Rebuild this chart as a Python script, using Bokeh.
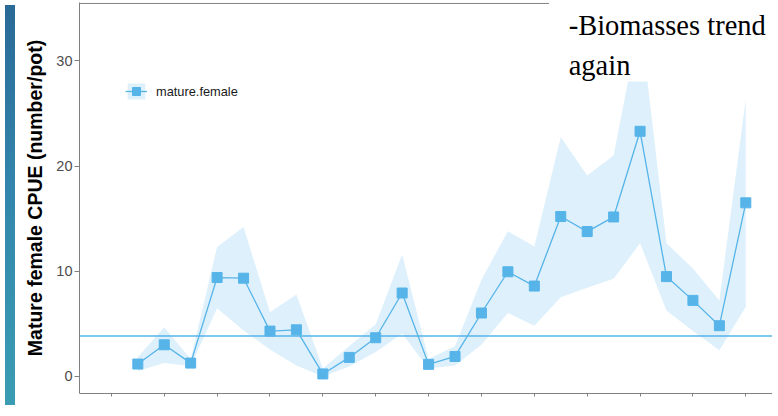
from bokeh.plotting import figure
from bokeh.models import (Range1d, FixedTicker, Span, Legend, LegendItem,
                          BoxAnnotation, Label, Div, ColumnDataSource,
                          CustomLabelingPolicy)
from bokeh.layouts import row
from bokeh.embed import file_html
from bokeh.resources import INLINE

# ---------------- data ----------------
survey = list(range(1, 25))
cpue_mean = [1.18, 3.01, 1.27, 9.40, 9.34, 4.31, 4.43, 0.24, 1.81, 3.68, 7.93, 1.15,
             1.90, 6.03, 9.95, 8.59, 15.2, 13.77, 15.16, 23.3, 9.49, 7.23, 4.82, 16.5]
cpue_lower = [0.51, 1.27, 0.99, 6.48, 4.37, 2.56, 1.05, 0.0, 0.95, 2.32, 4.07, 0.75,
              1.05, 3.01, 6.03, 4.82, 7.53, 8.44, 9.29, 12.66, 6.27, 4.31, 2.5, 6.63]
cpue_upper = [1.85, 4.67, 1.66, 12.3, 14.2, 6.09, 7.78, 0.75, 2.9, 4.97, 11.6, 1.66,
              2.86, 9.19, 13.8, 12.36, 22.75, 19.1, 21.0, 34.0, 12.66, 10.25, 7.23, 26.4]
reference_level = 3.85
y_ticks = [0, 10, 20, 30]
x_ticks = list(range(0, 25, 2))
series_name = "mature.female"
y_title = "Mature female CPUE (number/pot)"
note_lines = ["-Biomasses trend", "again"]

BLUE = "#56B4E9"
AXIS = "#808080"

src = ColumnDataSource(dict(x=survey, y=cpue_mean, lo=cpue_lower, hi=cpue_upper))

X0, X1 = -1.206, 25.01
Y0, Y1 = -1.62, 35.54

p = figure(width=752, height=400, output_backend="svg", toolbar_location=None,
           x_range=Range1d(X0, X1), y_range=Range1d(Y0, Y1),
           min_border_left=59, min_border_right=0, min_border_top=2, min_border_bottom=3,
           background_fill_color="white", border_fill_color="white")
p.outline_line_color = None
p.xgrid.visible = False
p.ygrid.visible = False

band = p.varea(x="x", y1="lo", y2="hi", source=src, fill_color=BLUE, fill_alpha=0.2)
ln = p.line(x="x", y="y", source=src, line_color=BLUE, line_width=1.3)
pts = p.scatter(x="x", y="y", source=src, marker="square", size=10,
                fill_color=BLUE, line_color=BLUE)

p.add_layout(Span(location=reference_level, dimension="width",
                  line_color=BLUE, line_width=1.5))

# y axis
p.yaxis.ticker = FixedTicker(ticks=y_ticks, minor_ticks=[])
p.yaxis.axis_label = y_title
p.yaxis.axis_label_text_font = "Liberation Sans"
p.yaxis.axis_label_text_font_style = "bold"
p.yaxis.axis_label_text_font_size = "19.5px"
p.yaxis.axis_label_text_color = "black"
p.yaxis.axis_label_standoff = 7
p.yaxis.major_label_text_font = "Liberation Sans"
p.yaxis.major_label_text_font_size = "14.5px"
p.yaxis.major_label_text_color = "#4d4d4d"
p.yaxis.major_label_standoff = 2
p.yaxis.major_tick_out = 5
p.yaxis.major_tick_in = 0
p.yaxis.axis_line_color = AXIS
p.yaxis.major_tick_line_color = AXIS

# x axis (its labels lie outside the reference's view: ticks only)
p.xaxis.ticker = FixedTicker(ticks=x_ticks, minor_ticks=[])
p.xaxis.major_label_policy = CustomLabelingPolicy(code="return []")
p.xaxis.major_label_text_font_size = "1px"
p.xaxis.major_label_standoff = 0
p.xaxis.major_tick_out = 3
p.xaxis.major_tick_in = 0
p.xaxis.axis_line_color = AXIS
p.xaxis.major_tick_line_color = AXIS

# top panel border (partly hidden by the text box)
box_left = 16.56
box_bottom = 28.04
p.segment(x0=[X0], y0=[35.45], x1=[box_left], y1=[35.45], line_color=AXIS, line_width=1)

legend = Legend(items=[LegendItem(label=series_name, renderers=[band, ln, pts])],
                location=(46, 292), padding=0, margin=0, spacing=0,
                glyph_width=22, glyph_height=20, label_height=20, label_standoff=9,
                label_text_font="Liberation Sans", label_text_font_size="12.8px",
                label_text_color="#1a1a1a", border_line_color=None,
                background_fill_alpha=0)
p.add_layout(legend)

# overlaid slide text box
p.add_layout(BoxAnnotation(left=box_left, bottom=box_bottom, fill_color="white",
                           fill_alpha=1.0, line_color=None))
for txt, yy in zip(note_lines, [33.40, 29.60]):
    p.add_layout(Label(x=17.30, y=yy, text=txt, text_font="Liberation Serif",
                       text_font_size="28.5px", text_color="black",
                       text_baseline="alphabetic"))

strip = Div(width=10, height=400,
            styles={"background": "linear-gradient(180deg, #2a6a96 0%, #3385ab 45%, #3a9db3 100%)"})

layout = row(strip, p)
open("out.html", "w").write(file_html(layout, INLINE))
